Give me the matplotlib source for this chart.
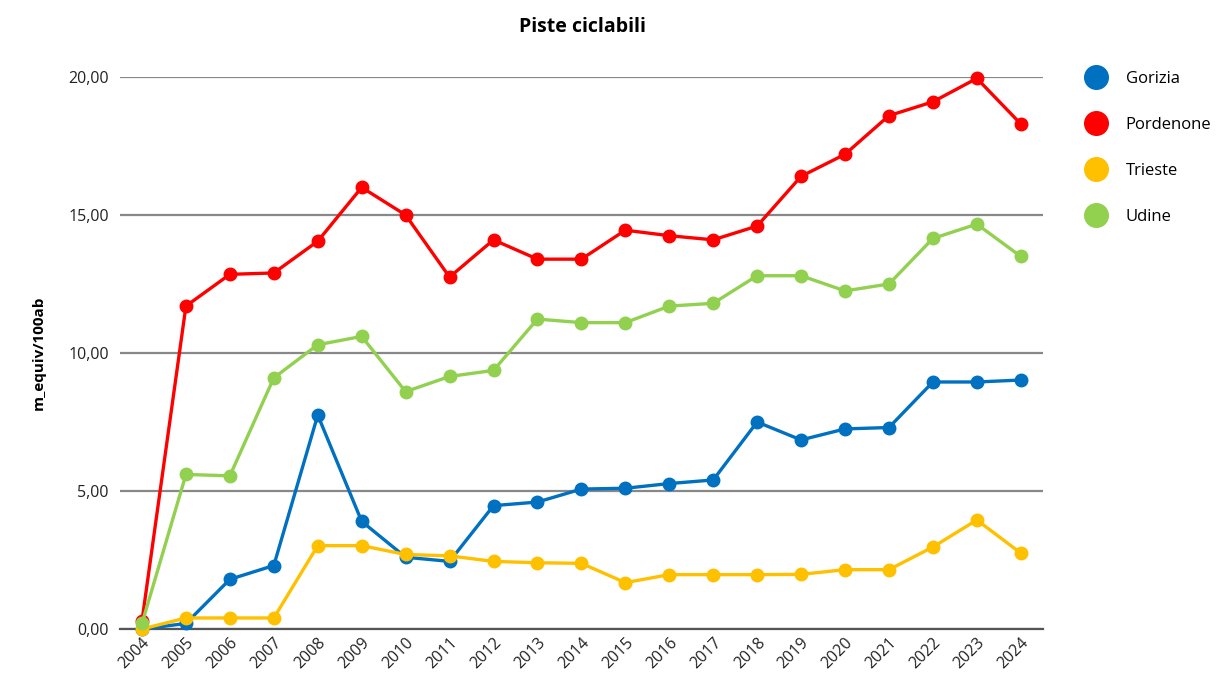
import matplotlib
matplotlib.use("Agg")
import matplotlib.pyplot as plt
from matplotlib.lines import Line2D
from matplotlib.ticker import FuncFormatter

plt.rcParams['font.family'] = ['Open Sans', 'DejaVu Sans']

years = list(range(2004, 2025))
gorizia = [0.0, 0.2, 1.8, 2.3, 7.75, 3.9, 2.6, 2.45, 4.47, 4.6, 5.07, 5.1, 5.27, 5.4,
           7.5, 6.85, 7.25, 7.3, 8.95, 8.95, 9.02]
pordenone = [0.3, 11.7, 12.85, 12.9, 14.05, 16.0, 15.0, 12.75, 14.1, 13.4, 13.4, 14.45,
             14.25, 14.1, 14.6, 16.4, 17.2, 18.6, 19.1, 19.95, 18.3]
trieste = [0.0, 0.4, 0.4, 0.4, 3.02, 3.02, 2.7, 2.65, 2.45, 2.4, 2.38, 1.68, 1.97, 1.97,
           1.97, 1.98, 2.15, 2.15, 2.97, 3.95, 2.75]
udine = [0.2, 5.6, 5.55, 9.1, 10.3, 10.6, 8.6, 9.15, 9.37, 11.23, 11.1, 11.1, 11.7, 11.8,
         12.8, 12.8, 12.25, 12.5, 14.15, 14.67, 13.5]

series = [("Gorizia", gorizia, "#0070C0"),
          ("Pordenone", pordenone, "#FF0000"),
          ("Trieste", trieste, "#FFC000"),
          ("Udine", udine, "#92D050")]

fig = plt.figure(figsize=(12.21, 6.82), dpi=100)
ax = fig.add_axes([0.0983, 0.0777, 0.7557, 0.8094])

for name, vals, col in series:
    ax.plot(years, vals, color=col, lw=2.4, marker="o", markersize=9,
            clip_on=False, zorder=3)

ax.set_xlim(2003.5, 2024.5)
ax.set_ylim(0, 20)
ax.set_yticks([0, 5, 10, 15, 20])
ax.yaxis.set_major_formatter(FuncFormatter(lambda v, p: f"{v:.2f}".replace(".", ",")))
ax.set_xticks(years)
ax.set_xticklabels([str(y) for y in years], rotation=45, ha="right",
                   rotation_mode="anchor", fontsize=11.5)
ax.tick_params(axis="y", labelsize=11.5, length=0, pad=8, labelcolor="#222222")
ax.tick_params(axis="x", length=0, pad=4, labelcolor="#222222")
ax.grid(axis="y", color="#888888", lw=1.6, zorder=0)
for s in ["top", "right", "left"]:
    ax.spines[s].set_visible(False)
ax.spines["bottom"].set_color("#555555")
ax.spines["bottom"].set_linewidth(1.6)

ax.set_ylabel("m_equiv/100ab", fontsize=11, fontweight="bold", labelpad=16)
fig.text(0.477, 0.96, "Piste ciclabili", ha="center", va="center",
         fontsize=14, fontweight="bold")

handles = [Line2D([], [], color=col, marker="o", linestyle="none", markersize=17)
           for _, _, col in series]
fig.legend(handles, [s[0] for s in series], loc="upper left",
           bbox_to_anchor=(0.872, 0.918), frameon=False, fontsize=12,
           labelspacing=1.8, handletextpad=0.75)

fig.savefig("out.png", dpi=100)
